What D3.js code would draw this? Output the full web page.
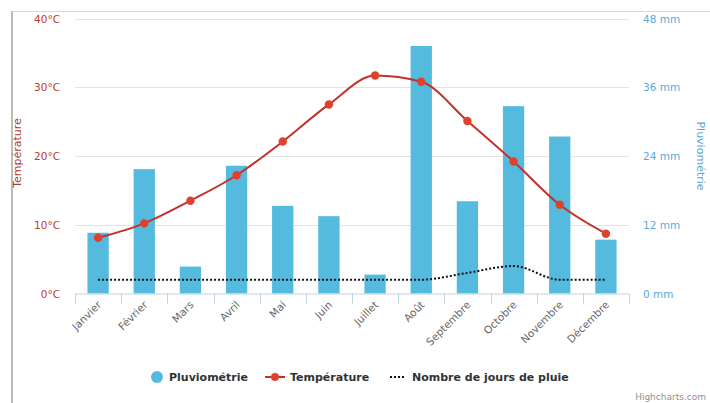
<!DOCTYPE html>
<html><head><meta charset="utf-8">
<script src="https://cdn.jsdelivr.net/npm/d3@7"></script>
<style>body{margin:0;background:#fff}svg{display:block;font-family:"DejaVu Sans",Verdana,sans-serif}</style>
</head><body><svg id="c" width="710" height="403"></svg>
<script>
const months = ["Janvier","Février","Mars","Avril","Mai","Juin","Juillet","Août","Septembre","Octobre","Novembre","Décembre"];
const pluvio = [10.6,21.7,4.7,22.3,15.3,13.5,3.3,43.2,16.1,32.7,27.4,9.4];
const temperature = [8.1,10.2,13.5,17.2,22.1,27.5,31.7,30.8,25.1,19.2,12.9,8.7];
const joursPluie = [2,2,2,2,2,2,2,2,3,4,2,2];
const tempTicks = [0,10,20,30,40];
const pluvioTicks = [0,12,24,36,48];

const svg = d3.select("#c");
svg.append("rect").attr("width",710).attr("height",403).attr("fill","#fff");
// frame
svg.append("line").attr("x1",11).attr("x2",710).attr("y1",11.5).attr("y2",11.5).attr("stroke","#d8d8d8");
svg.append("line").attr("x1",12).attr("x2",12).attr("y1",11).attr("y2",403).attr("stroke","#bdbdbd").attr("stroke-width",2);

const L=75,R=629,T=18.5,B=293.5;
const x = d3.scaleBand().domain(months).range([L,R]).padding(0);
const cx = m => x(m)+x.bandwidth()/2;
const yT = d3.scaleLinear().domain([0,40]).range([B,T]);
const yP = d3.scaleLinear().domain([0,48]).range([B,T]);

// grid
svg.append("g").selectAll("line").data(tempTicks.slice(1)).join("line")
  .attr("x1",L).attr("x2",R).attr("y1",d=>Math.round(yT(d))+0.5).attr("y2",d=>Math.round(yT(d))+0.5)
  .attr("stroke","#e3e3e3");

// left labels
svg.append("g").selectAll("text").data(tempTicks).join("text")
  .attr("x",60).attr("y",d=>yT(d)+4).attr("text-anchor","end")
  .attr("font-size",10.5).attr("fill","#c0392b").text(d=>d+"°C");
// right labels
svg.append("g").selectAll("text").data(pluvioTicks).join("text")
  .attr("x",643).attr("y",d=>yP(d)+4).attr("text-anchor","start")
  .attr("font-size",10.5).attr("fill","#5aaad8").text(d=>d+" mm");
// axis titles
svg.append("text").attr("transform","translate(21,153) rotate(-90)").attr("text-anchor","middle")
  .attr("font-size",11).attr("fill","#b0392b").text("Température");
svg.append("text").attr("transform","translate(697,156) rotate(90)").attr("text-anchor","middle")
  .attr("font-size",11).attr("fill","#5aaad8").text("Pluviométrie");

// bars
const bw = 21.3;
svg.append("g").selectAll("rect").data(pluvio).join("rect")
  .attr("x",(d,i)=>cx(months[i])-bw/2).attr("width",bw)
  .attr("y",d=>yP(d)).attr("height",d=>B-yP(d)).attr("fill","#54bbdf");

// x axis
svg.append("line").attr("x1",L).attr("x2",R).attr("y1",B+0.5).attr("y2",B+0.5).attr("stroke","#c0d0e0");
const bounds = months.map(m=>x(m)).concat([R]);
svg.append("g").selectAll("line").data(bounds).join("line")
  .attr("x1",d=>Math.round(d)+0.5).attr("x2",d=>Math.round(d)+0.5).attr("y1",B).attr("y2",B+10).attr("stroke","#c0d0e0");
svg.append("g").selectAll("text").data(months).join("text")
  .attr("transform",m=>`translate(${cx(m)+4},${B+12}) rotate(-45)`)
  .attr("text-anchor","end").attr("font-size",10.5).attr("fill","#666").text(m=>m);

// rain days dotted
svg.append("path").datum(joursPluie)
  .attr("d",d3.line().x((d,i)=>cx(months[i])).y(d=>yT(d)).curve(d3.curveMonotoneX))
  .attr("fill","none").attr("stroke","#111").attr("stroke-width",2).attr("stroke-dasharray","2,2");

// temperature
svg.append("path").datum(temperature)
  .attr("d",d3.line().x((d,i)=>cx(months[i])).y(d=>yT(d)).curve(d3.curveMonotoneX))
  .attr("fill","none").attr("stroke","#c6302a").attr("stroke-width",2);
svg.append("g").selectAll("circle").data(temperature).join("circle")
  .attr("cx",(d,i)=>cx(months[i])).attr("cy",d=>yT(d)).attr("r",4.2).attr("fill","#e0402c");

// legend
const lg = svg.append("g").attr("font-size",11).attr("font-weight","bold").attr("fill","#333");
lg.append("circle").attr("cx",157).attr("cy",377).attr("r",6).attr("fill","#54bbdf");
lg.append("text").attr("x",169).attr("y",381).text("Pluviométrie");
lg.append("line").attr("x1",265).attr("x2",285).attr("y1",377).attr("y2",377).attr("stroke","#c6302a").attr("stroke-width",2);
lg.append("circle").attr("cx",275).attr("cy",377).attr("r",4).attr("fill","#e0402c");
lg.append("text").attr("x",290).attr("y",381).text("Température");
lg.append("line").attr("x1",390).attr("x2",404).attr("y1",377).attr("y2",377).attr("stroke","#111").attr("stroke-width",2).attr("stroke-dasharray","2,2");
lg.append("text").attr("x",412).attr("y",381).text("Nombre de jours de pluie");

svg.append("text").attr("x",706).attr("y",400).attr("text-anchor","end").attr("font-size",9).attr("fill","#909090").text("Highcharts.com");
</script></body></html>
